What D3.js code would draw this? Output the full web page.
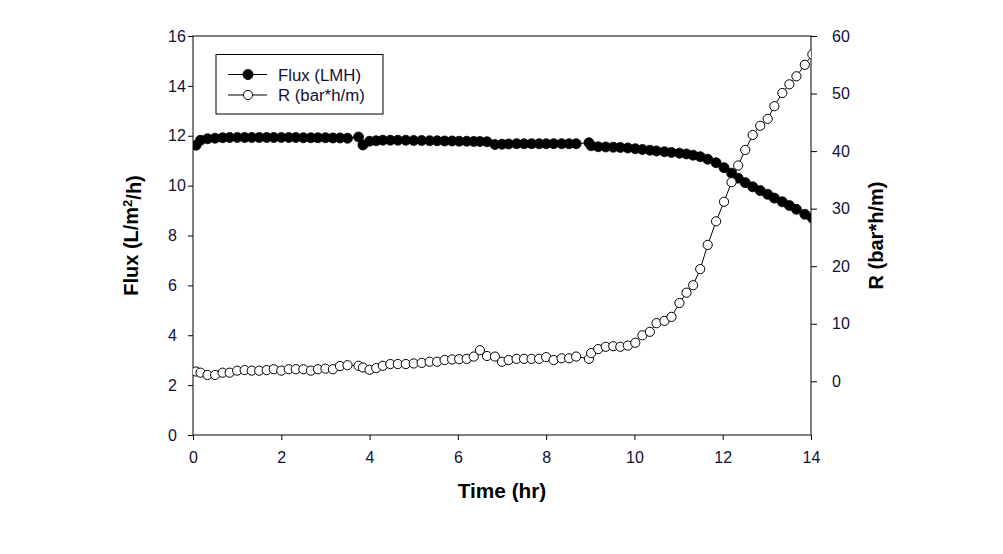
<!DOCTYPE html>
<html><head><meta charset="utf-8">
<script src="https://cdn.jsdelivr.net/npm/d3@7"></script>
<style>body{margin:0;background:#fff}svg{display:block}</style>
</head><body>
<svg id="c" width="1003" height="554"></svg>
<script>
// ---- data ----
const time = [
 0.07,0.17,0.33,0.5,0.67,0.83,1.0,1.17,1.33,1.5,1.67,1.83,2.0,2.17,2.33,2.5,2.67,2.83,3.0,3.17,3.33,3.5,
 3.75,3.85,4.0,4.15,4.3,4.47,4.64,4.82,5.0,5.18,5.36,5.53,5.7,5.87,6.03,6.2,6.36,6.5,6.66,
 6.84,7.0,7.15,7.33,7.5,7.67,7.84,8.0,8.17,8.35,8.52,8.68,
 8.97,9.02,9.18,9.35,9.52,9.68,9.85,10.02,10.18,10.35,10.5,10.68,10.84,11.02,11.18,11.33,11.49,11.66,11.85,12.03,12.2,12.35,12.51,12.68,12.85,13.02,13.17,13.35,13.51,13.67,13.86,14.03
];
const flux = [
 11.62,11.82,11.88,11.9,11.92,11.93,11.93,11.93,11.93,11.93,11.93,11.93,11.93,11.93,11.93,11.92,11.92,11.92,11.92,11.91,11.91,11.9,
 11.95,11.63,11.78,11.8,11.82,11.82,11.82,11.82,11.81,11.81,11.8,11.8,11.79,11.79,11.78,11.78,11.77,11.77,11.76,
 11.65,11.66,11.67,11.68,11.68,11.68,11.68,11.68,11.68,11.68,11.68,11.68,
 11.72,11.6,11.56,11.55,11.54,11.53,11.51,11.48,11.45,11.42,11.39,11.36,11.33,11.3,11.27,11.22,11.16,11.06,10.92,10.72,10.5,10.3,10.12,9.95,9.8,9.65,9.5,9.35,9.2,9.05,8.85,8.7
];
const resistance = [
 1.7,1.5,1.1,1.1,1.5,1.5,1.85,1.95,1.85,1.85,1.95,2.1,1.85,2.1,2.1,2.1,1.85,2.1,2.2,2.1,2.65,2.8,
 2.7,2.4,2.0,2.3,2.7,3.0,3.0,3.0,3.1,3.2,3.4,3.4,3.7,3.8,3.85,3.9,4.3,5.4,4.4,
 4.3,3.4,3.7,3.9,3.9,3.9,3.9,4.2,3.7,4.0,4.0,4.3,
 3.9,4.9,5.6,6.0,6.1,6.0,6.2,6.7,8.0,8.6,10.1,10.5,11.2,13.6,15.4,16.7,19.5,23.7,27.8,31.2,34.6,37.5,40.2,42.8,44.4,45.6,47.8,50.1,51.6,53.0,55.0,56.8
];
const xTicks = [0,2,4,6,8,10,12,14];
const yLeftTicks = [0,2,4,6,8,10,12,14,16];
const yRightTicks = [0,10,20,30,40,50,60];
const seriesNames = ["Flux (LMH)", "R (bar*h/m)"];

// ---- layout ----
const L = 193, R = 811, T = 36, B = 435;
const FONT = "'Liberation Sans', Arial, sans-serif";
const TXT = "#101038";
const svg = d3.select("#c");

const x = d3.scaleLinear().domain([0, 14]).range([L, R]);
const yL = d3.scaleLinear().domain([0, 16]).range([B, T]);
const yR = d3.scaleLinear().domain([-9.33, 60]).range([B, T]);

svg.append("defs").append("clipPath").attr("id", "clip")
  .append("rect").attr("x", L).attr("y", T).attr("width", R - L).attr("height", B - T);

// axes
const gx = svg.append("g").attr("transform", `translate(0,${B})`)
  .call(d3.axisBottom(x).tickValues(xTicks).tickFormat(d3.format("d")).tickSize(5).tickPadding(12).tickSizeOuter(0));
const gl = svg.append("g").attr("transform", `translate(${L},0)`)
  .call(d3.axisLeft(yL).tickValues(yLeftTicks).tickFormat(d3.format("d")).tickSize(5).tickSizeOuter(0));
const gr = svg.append("g").attr("transform", `translate(${R},0)`)
  .call(d3.axisRight(yR).tickValues(yRightTicks).tickFormat(d3.format("d")).tickSize(6).tickPadding(15).tickSizeOuter(0));
[gx, gl, gr].forEach(g => {
  g.select(".domain").remove();
  g.selectAll(".tick line").attr("stroke", "#000").attr("stroke-width", 1);
  g.selectAll(".tick text").attr("fill", TXT).style("font-family", FONT).style("font-size", "16px");
});
gl.selectAll(".tick text").attr("text-anchor", "start").attr("x", -25);

// frame
svg.append("rect").attr("x", L).attr("y", T).attr("width", R - L).attr("height", B - T)
  .attr("fill", "none").attr("stroke", "#000").attr("stroke-width", 1);

const plot = svg.append("g").attr("clip-path", "url(#clip)");
const fluxData = time.map((t, i) => [t, flux[i]]);
const rData = time.map((t, i) => [t, resistance[i]]);

// flux series
plot.append("path").datum(fluxData)
  .attr("fill", "none").attr("stroke", "#000").attr("stroke-width", 1)
  .attr("d", d3.line().x(d => x(d[0])).y(d => yL(d[1])));
plot.append("g").selectAll("circle").data(fluxData).join("circle")
  .attr("cx", d => x(d[0])).attr("cy", d => yL(d[1])).attr("r", 5)
  .attr("fill", "#000").attr("stroke", "#000").attr("stroke-width", 0.8);

// R series
plot.append("path").datum(rData)
  .attr("fill", "none").attr("stroke", "#000").attr("stroke-width", 1)
  .attr("d", d3.line().x(d => x(d[0])).y(d => yR(d[1])));
plot.append("g").selectAll("circle").data(rData).join("circle")
  .attr("cx", d => x(d[0])).attr("cy", d => yR(d[1])).attr("r", 4.6)
  .attr("fill", "#fff").attr("stroke", "#000").attr("stroke-width", 1);

// legend
const lg = svg.append("g");
lg.append("rect").attr("x", 216).attr("y", 54.5).attr("width", 167).attr("height", 59.5)
  .attr("fill", "#fff").attr("stroke", "#000").attr("stroke-width", 1);
const rows = [74.5, 95];
seriesNames.forEach((name, i) => {
  const yy = rows[i];
  lg.append("line").attr("x1", 228).attr("x2", 267).attr("y1", yy).attr("y2", yy).attr("stroke", "#000");
  lg.append("circle").attr("cx", 248).attr("cy", yy).attr("r", i === 0 ? 5 : 4.6)
    .attr("fill", i === 0 ? "#000" : "#fff").attr("stroke", "#000");
  lg.append("text").attr("x", 278).attr("y", yy + 6).attr("fill", TXT)
    .style("font-family", FONT).style("font-size", "16.8px").text(name);
});

// axis titles
svg.append("text").attr("x", (L + R) / 2).attr("y", 498).attr("text-anchor", "middle")
  .style("font-family", FONT).style("font-size", "20.8px").style("font-weight", "bold").text("Time (hr)");
const lt = svg.append("text").attr("transform", `translate(138,${(T + B) / 2}) rotate(-90)`)
  .attr("text-anchor", "middle").style("font-family", FONT).style("font-size", "20px").style("font-weight", "bold");
lt.append("tspan").text("Flux (L/m");
lt.append("tspan").attr("dy", "-0.45em").style("font-size", "13px").text("2");
lt.append("tspan").attr("dy", "0.45em").text("/h)");
svg.append("text").attr("transform", `translate(883,${(T + B) / 2}) rotate(-90)`)
  .attr("text-anchor", "middle").style("font-family", FONT).style("font-size", "20px").style("font-weight", "bold")
  .text("R (bar*h/m)");
</script>
</body></html>
